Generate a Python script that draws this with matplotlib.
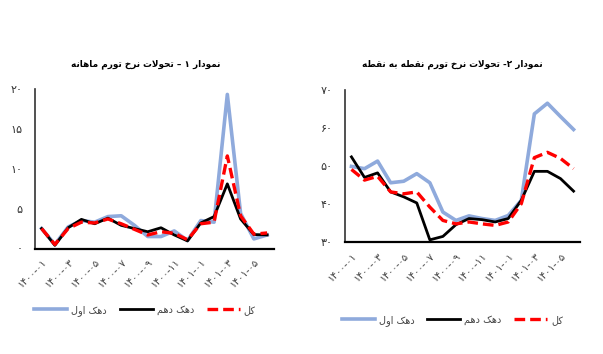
import matplotlib
matplotlib.use("Agg")
import matplotlib.pyplot as plt
import numpy as np

plt.rcParams['font.family'] = ['DejaVu Sans']

# ---------------- data ----------------
categories = ["۱۴۰۰-۰۱", "۱۴۰۰-۰۲", "۱۴۰۰-۰۳", "۱۴۰۰-۰۴", "۱۴۰۰-۰۵", "۱۴۰۰-۰۶",
              "۱۴۰۰-۰۷", "۱۴۰۰-۰۸", "۱۴۰۰-۰۹", "۱۴۰۰-۱۰", "۱۴۰۰-۱۱", "۱۴۰۰-۱۲",
              "۱۴۰۱-۰۱", "۱۴۰۱-۰۲", "۱۴۰۱-۰۳", "۱۴۰۱-۰۴", "۱۴۰۱-۰۵", "۱۴۰۱-۰۶"]

monthly_first = [2.5, 0.5, 2.7, 3.5, 3.3, 4.0, 4.1, 2.9, 1.5, 1.5, 2.2, 1.0, 3.5, 3.3, 19.3, 4.4, 1.2, 1.7]
monthly_tenth = [2.5, 0.4, 2.6, 3.65, 3.1, 3.8, 2.9, 2.5, 2.1, 2.6, 1.7, 0.95, 3.2, 4.0, 8.1, 3.7, 1.75, 1.7]
monthly_total = [2.5, 0.5, 2.5, 3.3, 3.2, 3.7, 3.1, 2.4, 1.7, 2.1, 1.9, 1.1, 3.1, 3.3, 11.6, 4.1, 1.8, 1.95]

p2p_first = [49.9, 49.3, 51.3, 45.6, 46.0, 48.0, 45.6, 37.9, 35.7, 36.9, 36.2, 35.7, 37.0, 41.0, 63.7, 66.5, 63.0, 59.6]
p2p_tenth = [52.4, 47.0, 48.2, 43.2, 41.9, 40.3, 30.6, 31.5, 34.6, 36.2, 35.9, 35.3, 36.2, 41.0, 48.6, 48.6, 46.7, 43.4]
p2p_total = [49.1, 46.3, 47.3, 43.2, 42.7, 43.2, 39.2, 35.7, 34.8, 35.3, 34.8, 34.4, 35.3, 40.1, 52.2, 53.6, 52.0, 49.3]

title1 = "نمودار ۱ – تحولات نرخ تورم ماهانه"
title2 = "نمودار ۲- تحولات نرخ تورم نقطه به نقطه"
series_names = ["دهک اول", "دهک دهم", "کل"]
yticks1 = [0, 5, 10, 15, 20]
yticks2 = [30, 40, 50, 60, 70]

# ------------- simple Arabic-script shaping -------------
FORMS = {
    '\u0627': ('\uFE8D', '\uFE8E'),
    '\u0628': ('\uFE8F', '\uFE90', '\uFE91', '\uFE92'),
    '\u062A': ('\uFE95', '\uFE96', '\uFE97', '\uFE98'),
    '\u062D': ('\uFEA1', '\uFEA2', '\uFEA3', '\uFEA4'),
    '\u062E': ('\uFEA5', '\uFEA6', '\uFEA7', '\uFEA8'),
    '\u062F': ('\uFEA9', '\uFEAA'),
    '\u0631': ('\uFEAD', '\uFEAE'),
    '\u0637': ('\uFEC1', '\uFEC2', '\uFEC3', '\uFEC4'),
    '\u0642': ('\uFED5', '\uFED6', '\uFED7', '\uFED8'),
    '\u0644': ('\uFEDD', '\uFEDE', '\uFEDF', '\uFEE0'),
    '\u0645': ('\uFEE1', '\uFEE2', '\uFEE3', '\uFEE4'),
    '\u0646': ('\uFEE5', '\uFEE6', '\uFEE7', '\uFEE8'),
    '\u0647': ('\uFEE9', '\uFEEA', '\uFEEB', '\uFEEC'),
    '\u0648': ('\uFEED', '\uFEEE'),
    '\u06A9': ('\uFB8E', '\uFB8F', '\uFB90', '\uFB91'),
}


def shape(text):
    chars = list(text)
    out = []
    i = 0
    n = len(chars)
    while i < n:
        c = chars[i]
        if c not in FORMS:
            out.append(c)
            i += 1
            continue
        prev = chars[i - 1] if i > 0 else None
        joins_prev = prev is not None and prev in FORMS and len(FORMS[prev]) == 4
        if c == '\u0644' and i + 1 < n and chars[i + 1] == '\u0627':
            out.append('\uFEFC' if joins_prev else '\uFEFB')
            i += 2
            continue
        nxt = chars[i + 1] if i + 1 < n else None
        joins_next = len(FORMS[c]) == 4 and nxt is not None and nxt in FORMS
        f = FORMS[c]
        if joins_prev and joins_next:
            out.append(f[3])
        elif joins_prev:
            out.append(f[1])
        elif joins_next:
            out.append(f[2])
        else:
            out.append(f[0])
        i += 1
    return ''.join(reversed(out))


PDIG = "۰۱۲۳۴۵۶۷۸۹"


def pnum(v):
    return ''.join(PDIG[int(d)] for d in str(v))


# ---------------- plot ----------------
fig = plt.figure(figsize=(6.03, 3.54), dpi=100)

ax1 = fig.add_axes([0.058, 0.298, 0.396, 0.451])
ax2 = fig.add_axes([0.572, 0.316, 0.390, 0.430])

blue = '#8FAADC'
x = np.arange(len(categories))


def draw(ax, a, b, c, yt, title, title_pos, leg_pos):
    l1, = ax.plot(x, a, color=blue, lw=2.6)
    l2, = ax.plot(x, b, color='black', lw=2.0)
    l3, = ax.plot(x, c, color='#FF0000', lw=2.4, dashes=(3.2, 1.5))
    ax.set_xlim(-0.5, len(categories) - 0.5)
    ax.set_ylim(yt[0], yt[-1])
    ax.set_yticks(yt)
    ax.set_yticklabels([pnum(v) for v in yt], fontsize=8, color='#333333')
    ax.set_xticks(x[::2])
    ax.set_xticklabels(categories[::2], rotation=45, ha='right', va='top',
                       rotation_mode='anchor', fontsize=7.3, color='#444444')
    ax.tick_params(axis='y', length=0, pad=9)
    ax.tick_params(axis='x', length=0, pad=6)
    for s in ['top', 'right']:
        ax.spines[s].set_visible(False)
    ax.spines['left'].set_linewidth(1.2)
    ax.spines['left'].set_color('#333333')
    ax.spines['bottom'].set_linewidth(1.6)
    ax.spines['bottom'].set_color('black')
    ax.text(title_pos[0], title_pos[1], shape(title), transform=ax.transAxes,
            ha='center', va='center', fontsize=6.4, fontweight='bold')
    leg = ax.legend([l1, l2, l3], [shape(s) for s in series_names],
                    loc='center', bbox_to_anchor=leg_pos, ncol=3,
                    frameon=False, fontsize=7, handlelength=3.4,
                    handletextpad=0.4, columnspacing=1.3)
    for t in leg.get_texts():
        t.set_color('#444444')


draw(ax1, monthly_first, monthly_tenth, monthly_total, yticks1, title1,
     (0.464, 1.157), (0.46, -0.386))
draw(ax2, p2p_first, p2p_tenth, p2p_total, yticks2, title2,
     (0.455, 1.171), (0.457, -0.513))

fig.savefig('out.png', dpi=100)
